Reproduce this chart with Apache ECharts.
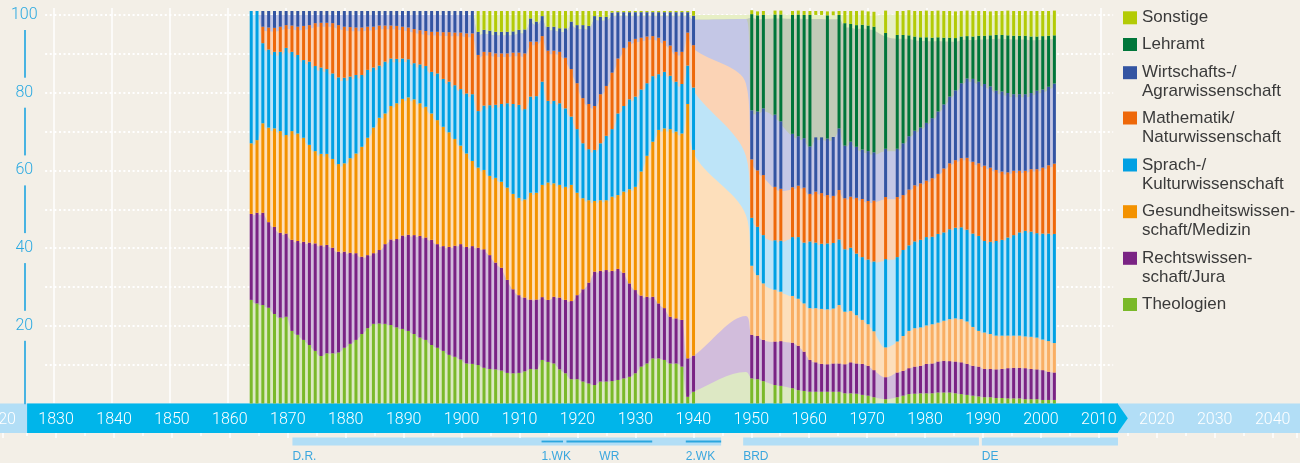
<!DOCTYPE html>
<html><head><meta charset="utf-8">
<script src="https://cdn.jsdelivr.net/npm/echarts@6/dist/echarts.min.js"></script>
<style>html,body{margin:0;padding:0;background:#f3efe7;}#c{width:1300px;height:463px;}</style>
</head><body><div id="c"></div><script>
const years = [
 1864,1865,1866,1867,1868,1869,1870,1871,1872,1873,
 1874,1875,1876,1877,1878,1879,1880,1881,1882,1883,
 1884,1885,1886,1887,1888,1889,1890,1891,1892,1893,
 1894,1895,1896,1897,1898,1899,1900,1901,1902,1903,
 1904,1905,1906,1907,1908,1909,1910,1911,1912,1913,
 1914,1915,1916,1917,1918,1919,1920,1921,1922,1923,
 1924,1925,1926,1927,1928,1929,1930,1931,1932,1933,
 1934,1935,1936,1937,1938,1939,1940,
 1949,
 1950,1951,1952,
 1954,1955,
 1957,1958,1959,1960,1961,1962,1963,1964,1965,1966,1967,1968,1969,1970,1971,
 1973,
 1975,1976,1977,1978,1979,1980,1981,1982,1983,1984,1985,1986,1987,1988,1989,1990,1991,1992,1993,1994,1995,1996,1997,1998,1999,2000,2001,2002
];
const theologien = [
 26.4,25.5,25.1,24.4,22.8,21.9,22.1,18.5,17.5,16.2,
 14.9,13.4,12.1,12.8,12.8,13.0,14.2,15.2,16.2,17.7,
 19.2,20.3,20.4,20.3,20.0,19.4,19.0,18.5,17.7,16.8,
 16.2,14.9,14.2,13.4,12.4,11.9,11.2,10.2,10.1,9.8,
 9.1,8.8,8.7,8.4,7.8,7.7,7.8,8.2,8.8,8.7,
 11.1,10.6,10.2,8.7,7.7,6.2,6.2,5.6,5.1,4.7,
 5.6,5.6,5.7,6.0,6.4,6.8,7.7,9.4,10.2,11.5,
 11.5,11.1,10.2,10.2,9.4,1.7,3.0,
 8.1,
 6.4,6.2,5.7,
 4.7,4.5,
 3.9,3.4,3.2,3.0,3.0,3.0,3.0,3.0,3.0,2.6,2.6,2.5,2.2,2.0,1.6,
 1.1,
 1.6,2.0,2.4,2.5,2.6,2.6,2.6,2.8,2.8,2.8,2.6,2.4,2.2,2.0,1.8,1.6,1.6,1.4,1.4,1.3,1.3,1.3,1.1,1.1,1.1,0.9,0.9,0.9
];
const rechtswissenschaft = [
 21.9,23.1,23.5,21.8,22.2,21.6,21.2,23.2,23.9,25.0,
 26.1,27.4,28.2,27.6,26.9,25.7,24.5,23.2,22.1,19.7,
 18.6,18.0,18.7,20.3,21.8,22.5,23.8,24.5,25.2,25.9,
 26.1,26.8,26.4,26.7,27.5,28.3,29.4,29.7,30.0,29.9,
 30.2,29.0,27.2,26.2,23.7,21.4,19.8,18.8,17.7,17.8,
 16.0,15.8,17.0,18.3,18.7,19.9,21.4,23.5,25.7,28.9,
 28.2,28.4,28.1,28.3,26.9,23.8,21.2,18.1,17.0,15.7,
 14.0,13.2,11.9,11.5,11.9,9.8,9.2,
 14.4,
 11.1,11.0,10.5,
 11.1,11.4,
 11.6,11.3,10.0,8.1,7.5,7.1,7.0,7.2,7.2,7.4,7.9,7.7,7.9,7.6,6.9,
 5.6,
 6.3,6.3,6.6,6.9,7.0,7.5,7.6,7.9,8.1,8.0,8.1,8.1,7.9,7.6,7.6,7.2,7.2,7.3,7.4,7.7,7.8,7.8,7.9,7.7,7.6,7.6,7.2,7.0
];
const gesundheit = [
 18.0,18.5,22.8,24.1,25.1,25.9,25.1,27.7,27.4,26.5,
 24.9,23.5,23.3,23.2,22.6,22.3,22.5,24.1,25.4,28.0,
 29.9,32.0,33.7,33.3,34.0,34.6,34.8,35.0,34.6,33.8,
 33.3,32.2,31.6,30.4,29.2,27.2,25.1,23.8,21.7,20.4,
 20.2,20.2,21.6,21.9,23.5,24.3,24.8,25.0,27.2,27.2,
 28.6,29.9,28.9,28.7,28.8,29.6,26.1,23.2,21.0,18.0,
 18.0,17.8,18.9,18.8,20.7,24.0,26.3,31.6,35.9,39.5,
 44.2,45.8,47.8,47.6,47.5,64.8,52.4,
 26.0,
 17.6,15.5,14.4,
 13.2,12.6,
 11.9,12.0,12.3,13.2,13.8,14.0,14.0,14.0,14.9,13.4,13.1,12.3,11.2,10.6,9.9,
 7.6,
 7.9,8.9,9.5,9.8,9.8,9.8,10.0,9.9,10.2,10.7,11.0,11.0,10.8,9.9,9.1,9.3,8.9,8.6,8.5,8.3,8.2,8.2,8.1,8.2,8.1,7.8,7.8,7.5
];
const sprachKultur = [
 33.7,32.9,20.4,19.9,19.5,20.2,22.2,20.2,20.0,19.8,
 21.2,21.7,22.0,21.6,21.8,22.1,21.8,20.8,20.0,18.3,
 17.3,15.3,13.3,13.2,12.1,11.3,10.3,9.7,9.2,9.9,
 10.4,10.6,11.9,12.2,12.9,13.7,14.4,15.3,17.0,14.4,
 16.4,18.0,18.6,19.8,21.5,22.9,23.7,23.0,24.5,24.6,
 26.3,20.8,21.0,20.8,20.0,17.4,16.2,14.0,13.0,13.0,
 14.5,16.4,17.2,20.8,21.8,22.9,23.0,20.9,18.5,16.7,
 14.2,14.4,13.6,12.7,12.6,9.8,15.9,
 15.2,
 12.2,12.3,12.3,
 12.6,13.0,
 15.0,15.7,15.5,17.0,16.7,16.6,16.8,16.7,16.7,15.9,16.1,15.7,16.0,16.5,17.8,
 22.5,
 21.5,21.9,21.8,22.1,22.3,22.5,22.3,22.6,22.5,22.9,23.1,23.4,23.4,23.8,24.2,23.3,23.5,24.1,24.4,25.0,25.6,26.3,26.9,26.8,26.6,27.0,27.4,27.8
];
const mathematikNatur = [
 0,0,4.2,5.6,6.1,6.4,5.8,6.7,7.2,8.7,
 9.3,10.9,11.4,11.8,12.8,13.3,13.0,12.6,12.1,12.1,
 11.0,10.4,10.2,9.2,8.4,8.4,8.1,8.1,8.7,8.7,
 8.9,10.2,10.6,11.9,12.6,13.4,14.4,15.3,15.5,14.3,
 13.7,13.5,13.1,12.9,12.7,13.1,13.3,14.2,14.0,13.9,
 11.6,12.8,12.8,13.1,12.9,12.1,11.7,11.5,11.5,11.2,
 12.5,12.7,14.4,14.0,14.8,14.7,14.7,13.2,11.9,10.2,
 9.3,7.9,7.7,7.6,8.2,8.4,10.8,
 18.7,
 14.9,14.4,15.3,
 13.6,13.2,
 12.7,13.1,14.0,12.1,13.0,12.9,12.3,12.0,12.6,13.0,13.0,14.2,14.8,14.9,15.5,
 15.8,
 15.3,14.0,14.2,14.3,14.4,14.4,14.9,15.3,16.3,16.8,17.2,17.6,18.3,18.3,18.5,19.2,18.9,18.1,17.4,16.6,16.4,15.7,15.3,15.9,16.3,16.8,17.4,17.9
];
const wirtschaftAgrar = [
 0,0,4.0,4.2,4.3,4.0,3.6,3.7,4.0,3.8,
 3.6,3.1,3.0,3.0,3.1,3.6,4.0,4.1,4.2,4.2,
 4.0,4.0,3.7,3.7,3.7,3.8,4.0,4.2,4.6,4.9,
 5.1,5.3,5.3,5.4,5.4,5.5,5.5,5.7,5.7,5.9,
 5.6,5.5,5.5,5.5,5.5,5.4,5.8,6.1,5.9,5.1,
 5.1,6.1,6.1,6.0,7.5,12.1,14.8,18.6,19.9,22.9,
 19.7,17.6,15.3,11.8,9.1,7.5,6.8,6.5,6.2,6.1,
 6.5,7.3,8.5,10.1,10.1,5.2,7.5,
 16.6,
 12.5,15.0,17.0,
 18.4,17.2,
 13.6,12.6,12.6,12.1,13.8,14.2,14.4,15.0,15.7,13.4,14.0,13.0,12.6,12.7,12.3,
 12.3,
 12.3,13.2,13.6,13.9,14.2,14.7,15.3,15.9,16.3,17.0,17.8,19.1,20.2,21.1,20.8,20.8,20.7,20.2,20.4,20.2,19.5,19.5,19.5,19.4,20.0,19.9,20.0,20.4
];
const lehramt = [
 0,0,0,0,0,0,0,0,0,0,
 0,0,0,0,0,0,0,0,0,0,
 0,0,0,0,0,0,0,0,0,0,
 0,0,0,0,0,0,0,0,0,0,
 0,0,0,0,0,0,0,0,0,0,
 0,0,0,0,0,0,0,0,0,0,
 0,0,0,0,0,0,0,0,0,0,
 0,0,0,0,0,0,0,
 0,
 24.5,24.5,23.8,
 25.5,27.2,
 30.3,31.0,31.4,33.5,31.2,31.2,31.4,31.0,28.9,31.2,30.0,31.0,31.8,32.0,32.0,
 29.5,
 29.0,27.6,25.7,24.0,23.0,21.8,20.5,18.9,17.0,15.0,13.3,11.9,10.8,10.8,11.7,12.3,13.0,14.2,14.4,14.7,14.9,14.9,14.9,14.4,13.8,13.6,13.0,12.3
];
const sonstige = [
 0,0,0,0,0,0,0,0,0,0,
 0,0,0,0,0,0,0,0,0,0,
 0,0,0,0,0,0,0,0,0,0,
 0,0,0,0,0,0,0,0,0,5.3,
 4.8,5.0,5.3,5.3,5.3,5.2,4.8,4.7,1.9,2.7,
 1.3,4.0,4.0,4.4,4.4,2.7,3.6,3.6,3.8,1.3,
 1.5,1.5,0.4,0.3,0.3,0.3,0.3,0.3,0.3,0.3,
 0.3,0.3,0.3,0.3,0.3,0.3,1.2,
 1.0,
 1.0,1.0,1.0,
 1.0,1.0,
 1.0,1.0,1.0,1.0,1.0,1.0,1.0,1.0,1.0,3.1,3.3,3.6,3.6,3.6,3.8,
 5.7,
 6.1,6.1,6.4,6.5,6.7,6.8,6.8,6.8,6.8,6.8,6.8,6.5,6.5,6.5,6.3,6.3,6.1,6.1,6.1,6.3,6.3,6.3,6.3,6.5,6.5,6.4,6.3,6.3
];
// years that only shape the pale area (no bar drawn)
const noBarYears = [1949];
// years where the Lehramt bar is not drawn (only the pale area)
const lehramtNoBar = [1961, 1962, 1964];
const yTicks = [20, 40, 60, 80, 100];
const gridValues = [10,20,30,40,50,60,70,80,90,100];
const decades = [1830,1840,1850,1860,1870,1880,1890,1900,1910,1920,1930,1940,1950,1960,1970,1980,1990,2000,2010];
const edgeLabelYear = 1820;
const timeline = {lightFrom: 1800, start: 1825, end: 2013.3, tip: 2015, lightTo: 2060};
const periods = [
 {name:'D.R.', start:1870.8, end:1944.8, level:0, align:'left'},
 {name:'1.WK', start:1913.8, end:1917.5, level:1, align:'left'},
 {name:'WR', start:1918.1, end:1932.9, level:1, align:'center'},
 {name:'2.WK', start:1938.7, end:1944.8, level:1, align:'left'},
 {name:'BRD', start:1948.6, end:1989.3, level:0, align:'left'},
 {name:'DE', start:1989.8, end:2013.3, level:0, align:'left'}
];
const X_MIN = 1820.84, X_MAX = 2044.2;
const W = 1300;

const BG = '#f3efe7';
const FONT = "'Liberation Sans', Arial, sans-serif";
const NUMFONT = "Roboto, 'Liberation Sans', sans-serif";
const cats = [
 {name:'Theologien', values:theologien, dark:'#7ab929', light:'#dde8c4', center:304.5},
 {name:'Rechtswissen-\nschaft/Jura', values:rechtswissenschaft, dark:'#7a2384', light:'#d2bddc', center:258.3},
 {name:'Gesundheitswissen-\nschaft/Medizin', values:gesundheit, dark:'#f39200', light:'#fddfbb', postwar:'#f9ae63', center:211.7},
 {name:'Sprach-/\nKulturwissenschaft', values:sprachKultur, dark:'#00a0e3', light:'#bde4f8', center:165},
 {name:'Mathematik/\nNaturwissenschaft', values:mathematikNatur, dark:'#ee680a', light:'#fbd3b5', center:118},
 {name:'Wirtschafts-/\nAgrarwissenschaft', values:wirtschaftAgrar, dark:'#3354a2', light:'#c4c7e6', center:72.7},
 {name:'Lehramt', values:lehramt, dark:'#00763a', light:'#c1cbb8', center:44.5},
 {name:'Sonstige', values:sonstige, dark:'#b3cb06', light:'#e7efc5', center:17.8}
];

// category axis of all years covered by the bars, aligned with the value axis
const catYears = [];
for (let y = years[0]; y <= years[years.length - 1]; y++) catYears.push(y);
const px = y => (y - X_MIN) / (X_MAX - X_MIN) * W;
const catLeft = px(catYears[0]);
const catRight = W - px(catYears[catYears.length - 1]);
const valueAt = (arr, y) => { const i = years.indexOf(y); return i < 0 ? null : arr[i]; };

const series = [];
series.push({
  type:'line', xAxisIndex:0, yAxisIndex:0, data:[], silent:true, z:1, animation:false,
  markLine:{silent:true, z:1, symbol:'none', animation:false, label:{show:false}, emphasis:{disabled:true},
    data:[
      ...gridValues.map(v => [{coord:[1828.6, v], lineStyle:{color:'#ffffff', width:2, type:[2,2.6]}}, {coord:[2012.1, v]}]),
      ...decades.map(d => ({xAxis:d, lineStyle:{color:'#ffffff', width:1.5, type:'solid'}}))
    ]}
});
// pale areas: cumulative shares, painted from the top category down
for (let k = cats.length - 1; k >= 0; k--) {
  const c = cats[k];
  series.push({
    name:c.name + ' ', type:'line', xAxisIndex:0, yAxisIndex:0, z:2,
    data: years.map((y, i) => {
      let s = 0; for (let j = 0; j <= k; j++) s += cats[j].values[i];
      return [y, Math.round(s * 100) / 100];
    }),
    symbol:'none', smooth:0.35, lineStyle:{width:0}, areaStyle:{color:c.light, opacity:1, origin:'start'},
    silent:true, animation:false, emphasis:{disabled:true}
  });
}
cats.forEach(c => {
  series.push({
    name:c.name, type:'bar', stack:'bars', xAxisIndex:2, yAxisIndex:2, z:3, barWidth:3, clip:false,
    itemStyle:{color:c.dark},
    data: catYears.map(y => {
      const v = valueAt(c.values, y);
      if (v === null || noBarYears.includes(y)) return '-';
      const it = {value:v};
      if (c.name === 'Lehramt' && lehramtNoBar.includes(y)) it.itemStyle = {color:'rgba(0,0,0,0)'};
      else if (c.postwar && y > 1945) it.itemStyle = {color:c.postwar};
      return it;
    }),
    silent:true, animation:false, emphasis:{disabled:true}
  });
});
series.push({
  type:'custom', xAxisIndex:1, yAxisIndex:1, data:[[0]], silent:true, z:2, clip:false, animation:false,
  renderItem:(params, api) => {
    const X = v => api.coord([v, 0])[0];
    const yT = api.coord([timeline.start, 1])[1], yB = api.coord([timeline.start, 0])[1];
    return {type:'group', children:[
      {type:'rect', shape:{x:X(timeline.lightFrom), y:yT, width:X(timeline.lightTo)-X(timeline.lightFrom), height:yB-yT}, style:{fill:'#b2def6'}},
      {type:'rect', shape:{x:X(timeline.start), y:yT, width:X(timeline.end)-X(timeline.start), height:yB-yT}, style:{fill:'#00b5ea'}},
      {type:'polygon', shape:{points:[[X(timeline.end)-0.5, yT],[X(timeline.tip), (yT+yB)/2],[X(timeline.end)-0.5, yB]]}, style:{fill:'#00b5ea'}},
      {type:'text', z2:10, style:{x:X(edgeLabelYear), y:yT + 8, text:String(edgeLabelYear), fill:'#ffffff', font:'300 16px ' + NUMFONT, align:'center', verticalAlign:'top'}}
    ]};
  }
});
series.push({
  type:'custom', xAxisIndex:1, yAxisIndex:1, data:periods.map((p,i)=>[i]), silent:true, z:4, clip:false, animation:false,
  renderItem:(params, api) => {
    const p = periods[params.dataIndex];
    const X = v => api.coord([v, 0])[0];
    const yB = api.coord([1900, 0])[1];
    const ch = [];
    if (p.level === 0) ch.push({type:'rect', shape:{x:X(p.start), y:yB+4.5, width:X(p.end)-X(p.start), height:8}, style:{fill:'#b2def6'}});
    else ch.push({type:'rect', shape:{x:X(p.start), y:yB+7.6, width:X(p.end)-X(p.start), height:1.8}, style:{fill:'#2ba6de'}});
    const tx = p.align === 'center' ? (X(p.start)+X(p.end))/2 : X(p.start);
    ch.push({type:'text', style:{x:tx, y:yB+23.5, text:p.name, fill:'#3ba7de', font:'12px ' + FONT, align:p.align, verticalAlign:'middle'}});
    return {type:'group', children:ch};
  }
});

const LH = 19;
const chart = echarts.init(document.getElementById('c'), null, {renderer:'canvas'});
chart.setOption({
  backgroundColor: BG,
  animation:false,
  grid:[
    {left:0, right:0, top:4, bottom:59.5},
    {left:0, right:0, top:403.5, height:29.5},
    {left:catLeft, right:catRight, top:4, bottom:59.5}
  ],
  xAxis:[
    {gridIndex:0, type:'value', min:X_MIN, max:X_MAX, show:false},
    {gridIndex:1, type:'value', min:X_MIN, max:X_MAX, minInterval:10, maxInterval:10, position:'top', z:10,
     axisLine:{show:false},
     axisTick:{show:true, inside:true, length:5, lineStyle:{color:'#ffffff', width:1.5}},
     minorTick:{show:true, splitNumber:2, length:3, lineStyle:{color:'#ffffff', width:1.5}},
     axisLabel:{inside:true, margin:8, color:'#ffffff', fontSize:16, fontFamily:NUMFONT, fontWeight:300,
       formatter: v => { const r = Math.round(v/10)*10; return Math.abs(v - r) < 0.01 && r > 1825 && r < 2045 ? String(r) : ''; }},
     splitLine:{show:false}},
    {gridIndex:2, type:'category', data:catYears, boundaryGap:false, show:false}
  ],
  yAxis:[
    {gridIndex:0, type:'value', min:0, max:101.78, interval:20, position:'left', offset:-24.3, z:10,
     axisLine:{show:true, lineStyle:{color:'#2aa9e1', width:1.7}},
     axisTick:{show:false}, splitLine:{show:false},
     axisLabel:{margin:0, align:'center', verticalAlign:'middle',
       formatter: v => yTicks.includes(v) ? '{a|' + v + '}' : '',
       rich:{a:{backgroundColor:BG, padding:[7,3], fontSize:16, lineHeight:18, color:'#2aa9e1', fontFamily:NUMFONT, fontWeight:300}}}},
    {gridIndex:1, type:'value', min:0, max:1, show:false},
    {gridIndex:2, type:'value', min:0, max:101.78, show:false}
  ],
  legend: cats.map(c => {
    const n = c.name.split('\n').length;
    const text = n > 1 ? '\n' + c.name : c.name;
    const h = (n > 1 ? n + 1 : 1) * LH;
    return {data:[c.name], left:1123, top:c.center - h/2, orient:'vertical', padding:0, icon:'rect',
      itemWidth:14, itemHeight:13, selectedMode:false, formatter:() => text,
      textStyle:{fontSize:17, lineHeight:LH, color:'#3a3a3a', fontFamily:FONT}};
  }),
  series
});
</script></body></html>
